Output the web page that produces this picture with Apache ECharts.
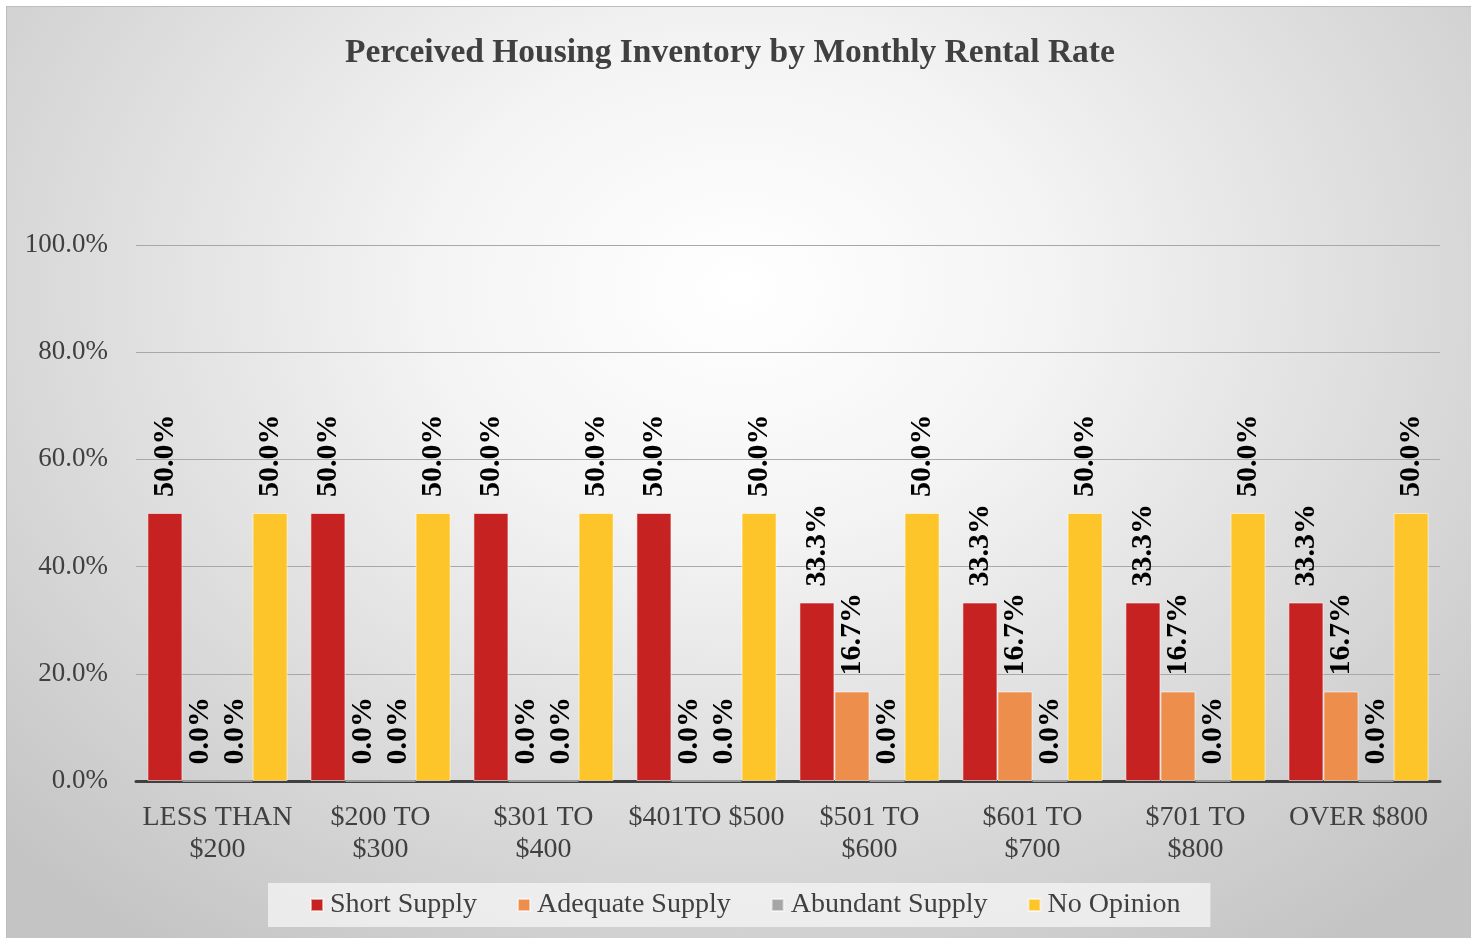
<!DOCTYPE html>
<html>
<head>
<meta charset="utf-8">
<script src="https://cdn.jsdelivr.net/npm/echarts@6/dist/echarts.min.js"></script>
<style>
  html, body { margin: 0; padding: 0; background: #ffffff; }
  #frame {
    position: absolute; left: 6px; top: 6px; width: 1464px; height: 940px;
    border-top: 1px solid #bdbdbd; border-left: 1px solid #bdbdbd;
    background: radial-gradient(ellipse 70% 85% at 50% 30%, #ffffff 0%, #f4f4f4 30%, #dcdcdc 65%, #c4c4c4 100%);
  }
  #chart { position: absolute; left: 0; top: 0; width: 1476px; height: 938px; }
</style>
</head>
<body>
<div id="frame"></div>
<div id="chart"></div>
<script>
// Rental-rate brackets along the x axis
const categories = ['LESS THAN\n$200', '$200 TO\n$300', '$301 TO\n$400', '$401TO $500',
                    '$501 TO\n$600', '$601 TO\n$700', '$701 TO\n$800', 'OVER $800'];

// Share of respondents (%) per bracket
const shortSupply    = [50.0, 50.0, 50.0, 50.0, 33.3, 33.3, 33.3, 33.3];
const adequateSupply = [0.0, 0.0, 0.0, 0.0, 16.7, 16.7, 16.7, 16.7];
const abundantSupply = [0.0, 0.0, 0.0, 0.0, 0.0, 0.0, 0.0, 0.0];
const noOpinion      = [50.0, 50.0, 50.0, 50.0, 50.0, 50.0, 50.0, 50.0];

const yTicks = { min: 0, max: 100, interval: 20 };

const serif = '"Liberation Serif", "Times New Roman", serif';
const textColor = '#404040';

function barSeries(name, data, color) {
  return {
    name: name,
    type: 'bar',
    data: data,
    barGap: '0%',
    barCategoryGap: '14%',
    itemStyle: { color: color, borderColor: 'rgba(255,255,255,0.55)', borderWidth: 1 },
    label: {
      show: true,
      position: 'top',
      rotate: 90,
      align: 'left',
      verticalAlign: 'middle',
      distance: 16,
      fontFamily: serif,
      fontWeight: 'bold',
      fontSize: 30,
      color: '#000000',
      formatter: p => p.value.toFixed(1) + '%'
    }
  };
}

const chart = echarts.init(document.getElementById('chart'), null, { renderer: 'canvas' });
chart.setOption({
  backgroundColor: 'transparent',
  animation: false,
  title: {
    text: 'Perceived Housing Inventory by Monthly Rental Rate',
    left: 340,
    top: 31,
    textStyle: { fontFamily: serif, fontWeight: 'bold', fontSize: 33.5, color: textColor }
  },
  legend: {
    top: 883,
    left: 268,
    icon: 'rect',
    itemWidth: 12,
    itemHeight: 12,
    itemGap: 40,
    padding: [8, 30, 8, 42],
    backgroundColor: 'rgba(245,245,245,0.75)',
    textStyle: { fontFamily: serif, fontSize: 28, color: textColor, padding: [0, 0, 0, 2] },
    data: ['Short Supply', 'Adequate Supply', 'Abundant Supply', 'No Opinion']
  },
  grid: { left: 136, right: 36, top: 245, bottom: 157, containLabel: false },
  xAxis: {
    type: 'category',
    data: categories,
    axisLine: { lineStyle: { color: '#404040', width: 3 } },
    axisTick: { show: false },
    axisLabel: {
      interval: 0,
      margin: 21,
      lineHeight: 32,
      fontFamily: serif,
      fontSize: 28,
      color: textColor
    }
  },
  yAxis: {
    type: 'value',
    min: yTicks.min,
    max: yTicks.max,
    interval: yTicks.interval,
    axisLine: { show: false },
    axisTick: { show: false },
    splitLine: { lineStyle: { color: '#a8a8a8', width: 1 } },
    axisLabel: {
      margin: 28,
      fontFamily: serif,
      fontSize: 27,
      color: textColor,
      formatter: v => v.toFixed(1) + '%'
    }
  },
  series: [
    barSeries('Short Supply', shortSupply, '#c72222'),
    barSeries('Adequate Supply', adequateSupply, '#ee8e4c'),
    barSeries('Abundant Supply', abundantSupply, '#a6a6a6'),
    barSeries('No Opinion', noOpinion, '#fdc52a')
  ]
});
</script>
</body>
</html>
